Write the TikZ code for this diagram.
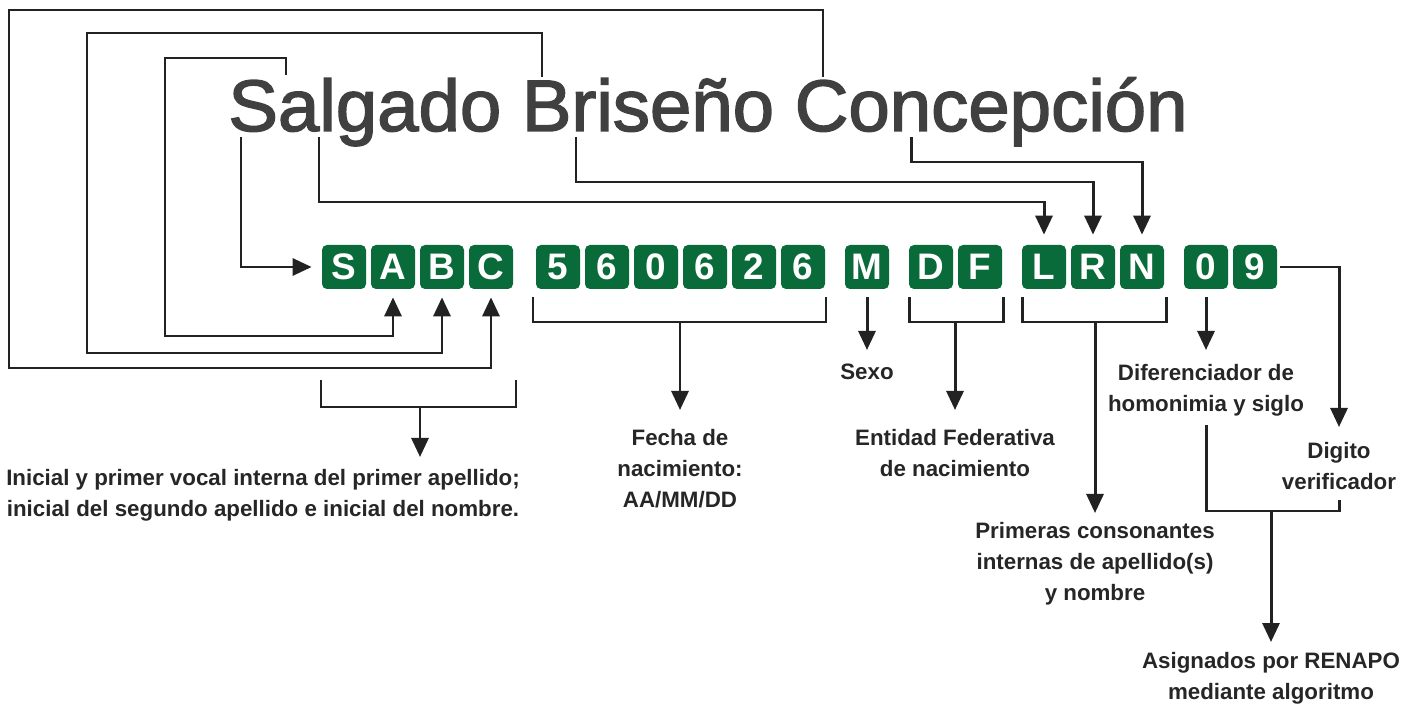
\documentclass[tikz,border=0pt]{standalone}
\usepackage{fontspec}
\setmainfont{Liberation Sans}
\newfontfamily\titlefont[FakeBold=2,FakeStretch=1.02]{Liberation Sans}
\usetikzlibrary{arrows.meta}
\definecolor{curpgreen}{HTML}{0A6B3A}
\definecolor{titlegray}{HTML}{404040}
\definecolor{linegray}{HTML}{222222}
\begin{document}
\begin{tikzpicture}[x=0.2mm,y=-0.2mm,
	chip/.style={rectangle,rounded corners=1mm,fill=curpgreen,minimum width=8.8mm,
		minimum height=8.8mm,inner sep=0,text=white,font=\fontsize{21}{21}\selectfont\bfseries},
	lbl/.style={align=center,inner sep=0,anchor=north,text=black!85,
		font=\fontsize{12.7}{17.6}\selectfont\bfseries},
	wire/.style={draw=linegray,line width=1.7pt},
	arr/.style={wire,-{Triangle[length=3.8mm,width=3.4mm]}}]
\useasboundingbox (0,0) rectangle (1417,704);
% name
\node[anchor=base west,inner sep=0,text=titlegray,font=\titlefont\fontsize{41.5}{41.5}\selectfont]
	(title) at (228,131) {Salgado Briseño Concepción};
% the code
\foreach \nm/\x/\ch in {cS/344/S,cA/393/A,cB/442/B,cC/491/C,
	f1/558/5,f2/607/6,f3/656/0,f4/705/6,f5/754/2,f6/803/6,cM/867/M,cD/931/D,cF/980/F,
	cL/1044/L,cR/1093/R,cN/1142/N,h1/1206/0,h2/1255/9}
	\node[chip] (\nm) at (\x,267) {\ch};
% labels
\node[lbl] (lIni) at (263,469) {Inicial y primer vocal interna del primer apellido;\\
	inicial del segundo apellido e inicial del nombre.};
\node[lbl] (lFecha) at (680,429) {Fecha de\\nacimiento:\\AA/MM/DD};
\node[lbl] (lSexo) at (867,364) {Sexo};
\node[lbl] (lEnt) at (955,429) {Entidad Federativa\\de nacimiento};
\node[lbl] (lPrim) at (1095,522) {Primeras consonantes\\internas de apellido(s)\\y nombre};
\node[lbl] (lHomo) at (1206,364) {Diferenciador de\\homonimia y siglo};
\node[lbl] (lVerif) at (1339,442) {Digito\\verificador};
\node[lbl] (lAsig) at (1271,652) {Asignados por RENAPO\\mediante algoritmo};
% letters taken from the name
\coordinate (tS) at (241,137);
\coordinate (tA) at (286,75);
\coordinate (tB) at (542,77);
\coordinate (tC) at (823,77);
\coordinate (tL) at (319,137);
\coordinate (tR) at (576,137);
\coordinate (tN) at (911,137);
\draw[arr,shorten >=2mm] (tS) |- (cS);
\draw[arr,shorten >=1.6mm] (tA) |- (165,58) |- (393,336) -- (cA);
\draw[arr,shorten >=1.6mm] (tB) |- (87,33) |- (442,353) -- (cB);
\draw[arr,shorten >=1.6mm] (tC) |- (9,10) |- (491,368) -- (cC);
\draw[arr,shorten >=2mm] (tL) |- (1044,202) -- (cL);
\draw[arr,shorten >=2mm] (tR) |- (1093,182) -- (cR);
\draw[arr,shorten >=2mm] (tN) |- (1142,162) -- (cN);
% brackets
\draw[wire] (321,380) |- (516,407) -- (516,380);
\draw[wire] (533,297) |- (826,322) -- (826,297);
\draw[wire] (909,297) |- (1003,322) -- (1003,297);
\draw[wire] (1022,297) |- (1166,322) -- (1166,297);
\draw[wire] (1206,425) |- (1339,511) -- (1339,500);
\coordinate (kIni) at (420,407);
\coordinate (kFecha) at (680,322);
\coordinate (kEnt) at (955,322);
\coordinate (kPrim) at (1095,322);
\coordinate (kAsig) at (1271,511);
\draw[arr,shorten >=2.4mm] (kIni) -- (kIni |- lIni.north);
\draw[arr,shorten >=3.8mm] (kFecha) -- (lFecha);
\draw[arr,shorten >=3.8mm] (kEnt) -- (lEnt);
\draw[arr,shorten >=1.8mm] (kPrim) -- (lPrim);
\draw[arr,shorten >=2mm] (kAsig) -- (lAsig);
\draw[arr,shorten <=1.6mm,shorten >=2.8mm] (cM) -- (lSexo);
\draw[arr,shorten <=1.6mm,shorten >=2.8mm] (h1) -- (lHomo);
\draw[arr,shorten <=0.6mm,shorten >=3mm] (h2) -| (lVerif);
\end{tikzpicture}
\end{document}
